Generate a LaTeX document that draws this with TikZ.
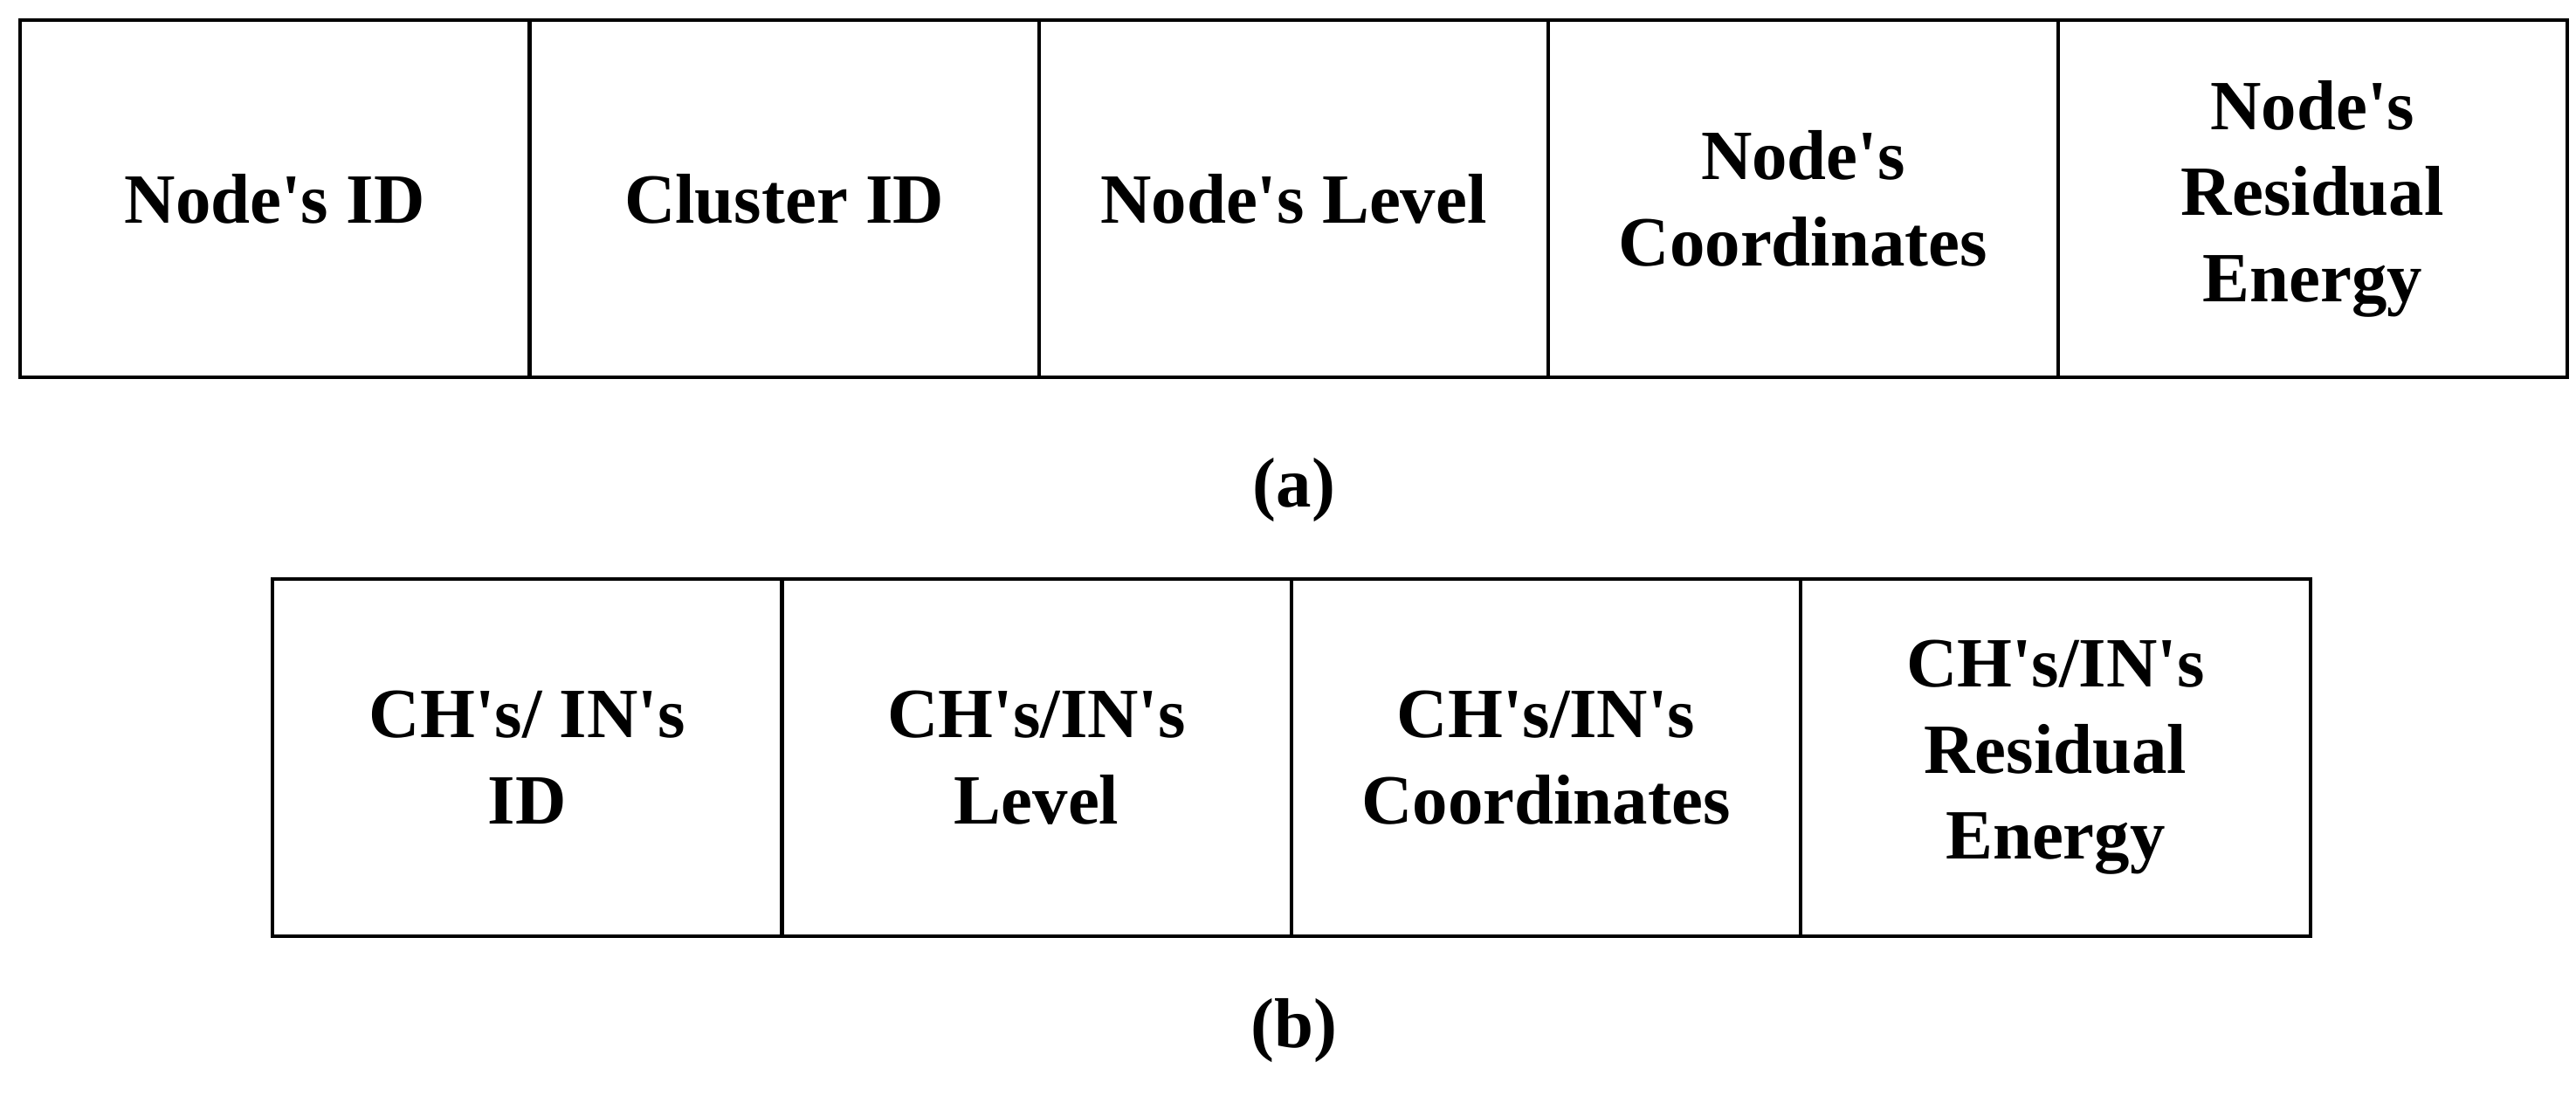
\documentclass[tikz,border=0pt]{standalone}
\usepackage{fontspec}
\setmainfont{Liberation Serif}
\usetikzlibrary{positioning}
\newcommand{\ap}{\textquotesingle}
\begin{document}
\begin{tikzpicture}[
    field/.style={draw,line width=1.2pt,minimum width=5.834cm,minimum height=4.09cm,
        inner sep=0pt,outer sep=0pt,align=center,font=\fontsize{23}{28}\selectfont\bfseries},
    caption/.style={font=\fontsize{23}{28}\selectfont\bfseries}]
        \useasboundingbox (0,0) rectangle (29.5,12.7);

        % (a)
        \node[field,anchor=north west] (nid) at (0.23,12.47) {Node\ap s ID};
        \node[field,right=0pt of nid] (cid) {Cluster ID};
        \node[field,right=0pt of cid] (nlev) {Node\ap s Level};
        \node[field,right=0pt of nlev] (ncoord) {Node\ap s\\Coordinates};
        \node[field,right=0pt of ncoord] (nen) {Node\ap s\\Residual\\Energy};
        \node[caption] (capa) at (14.82,7.09) {(a)};

        % (b)
        \node[field,anchor=north west] (hid) at (3.12,6.07) {CH\ap s/ IN\ap s\\ID};
        \node[field,right=0pt of hid] (hlev) {CH\ap s/IN\ap s\\Level};
        \node[field,right=0pt of hlev] (hcoord) {CH\ap s/IN\ap s\\Coordinates};
        \node[field,right=0pt of hcoord] (hen) {CH\ap s/IN\ap s\\Residual\\Energy};
        \node[caption] (capb) at (14.82,0.9) {(b)};
    \end{tikzpicture}
\end{document}
